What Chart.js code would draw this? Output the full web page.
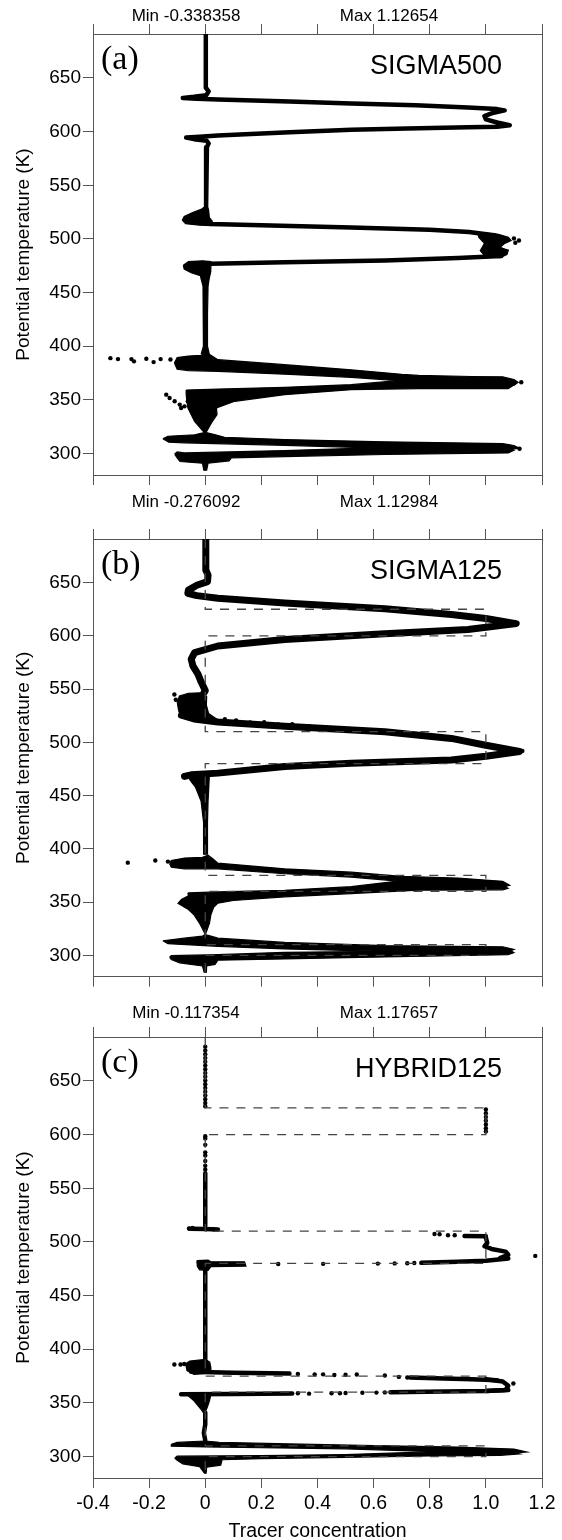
<!DOCTYPE html>
<html>
<head>
<meta charset="utf-8">
<script src="https://cdn.jsdelivr.net/npm/chart.js@4.4.1/dist/chart.umd.min.js"></script>
<style>
  html, body { margin: 0; padding: 0; background: #fff; width: 562px; height: 1540px; overflow: hidden; }
  canvas { position: absolute; left: 0; }
</style>
</head>
<body>
<canvas id="pa" width="562" height="490" style="top:0px;width:562px;height:490px"></canvas>
<canvas id="pb" width="562" height="500" style="top:490px;width:562px;height:500px"></canvas>
<canvas id="pc" width="562" height="570" style="top:990px;width:562px;height:570px"></canvas>
<script>
// axis ticks
const xTickValues = [-0.4, -0.2, 0, 0.2, 0.4, 0.6, 0.8, 1.0, 1.2];
const xTickLabels = ["-0.4", "-0.2", "0", "0.2", "0.4", "0.6", "0.8", "1.0", "1.2"];
const yTickValues = [300, 350, 400, 450, 500, 550, 600, 650];

// panel texts
const panelTags = ["(a)", "(b)", "(c)"];
const panelNames = ["SIGMA500", "SIGMA125", "HYBRID125"];
const minLabels = ["Min -0.338358", "Min -0.276092", "Min -0.117354"];
const maxLabels = ["Max 1.12654", "Max 1.12984", "Max 1.17657"];

// initial tracer profile (dashed), [concentration, theta]
const initialProfile = [[0,691],[0,625],[1,625],[1,600],[0,600],[0,510],[1,510],[1,480],[0,480],
  [0,375],[1,375],[1,360],[0,360],[0,310],[1,310],[1,300],[0,300],[0,280]];

// ---- (a) SIGMA500 : thin profile traces, dense envelopes, stray points
const aProfile = [[0.002,691],[0.002,641],[0.012,637.5],[0.004,634],[-0.04,632.5],[-0.08,631.4],[-0.03,630.6],
  [0.045,630],[0.3,628],[0.52,626.3],[0.75,624.5],[0.936,622.6],[1.04,621],[1.067,619.8],[1.02,617],
  [0.995,614.5],[1.0,611.5],[1.04,608.5],[1.085,606],[1.04,604.6],[0.936,604],[0.72,603],[0.52,601.8],
  [0.3,599.5],[0.045,596.4],[-0.02,595.2],[-0.068,594.5],[-0.04,593],[0.005,591.5],[0.012,589],
  [0.006,585.5],[0.003,582],[0.003,530],[0.008,519],[0.02,514],[0.2,512.8],[0.52,510.7],[0.8,508.5],
  [0.94,506.4],[1.03,503.5],[1.06,500.5],[1.04,496.5],[1.03,493],[1.06,489.5],[1.055,484],[0.9,482.3],
  [0.64,480],[0.283,478.3],[0.02,476.8],[-0.04,475.5],[-0.07,474.5]];
const aBlobs = [
  [[-0.082,517.5],[-0.075,521],[-0.045,524.5],[-0.015,527.5],[0.004,531],[0.012,527],[0.014,520],[0.025,516.5],[0.02,512.5],[-0.02,512.8],[-0.07,514.2]],
  [[0.97,506.2],[1.045,504.2],[1.08,501.5],[1.09,498.5],[1.065,495.5],[1.05,492],[1.08,489.5],[1.075,485.5],[1.05,482.5],[1.0,483.2],[0.98,489],[0.995,496],[0.975,501.5]],
  [[-0.078,475.5],[-0.06,478.8],[-0.01,479.6],[0.02,479],[0.02,472],[0.015,466.5],[-0.015,465.5],[-0.05,468.5],[-0.075,472]],
  [[-0.02,470],[-0.015,463],[-0.008,456],[-0.006,430],[-0.007,400],[-0.014,393],[0.014,393],[0.008,400],[0.008,430],[0.01,456],[0.014,463],[0.02,470]],
  [[-0.11,384.3],[-0.1,389.5],[-0.06,390.8],[-0.015,391.5],[0.004,394],[0.02,391.5],[0.045,387.5],[0.283,382.8],[0.52,378],[0.7,373.8],[0.76,372.8],[0.95,371.8],[1.06,371.5],[1.1,369],[1.115,366.5],[1.1,363.5],[0.76,364.5],[0.687,367.9],[0.52,371],[0.283,374],[0.045,376.6],[-0.06,377.3],[-0.1,378.5]],
  [[-0.068,359.2],[0.045,360.1],[0.283,361.7],[0.52,364.2],[0.687,367.9],[0.76,367],[1.08,366],[1.1,364],[1.08,360.5],[0.76,360.5],[0.52,359.5],[0.283,354.9],[0.105,348.7],[0.04,342.5],[0.042,336.3],[0.022,328.5],[0.006,321],[0.0,319],[-0.008,321],[-0.038,330],[-0.062,342.5],[-0.068,354.9]],
  [[-0.151,313.7],[-0.133,316.1],[-0.038,317.5],[0.0,319.8],[0.033,317.7],[0.069,315.2],[0.283,313],[0.64,310.9],[1.06,309.3],[1.1,307.5],[1.12,305],[1.08,303.5],[0.592,305.3],[0.283,307.7],[-0.074,310],[-0.13,310.5]],
  [[-0.109,299.5],[-0.1,301.5],[-0.074,300.6],[0.283,302.8],[0.592,305.3],[1.08,305.5],[1.1,303],[1.08,300.6],[0.64,299.1],[0.283,297.2],[0.093,296],[0.085,293.2],[0.01,291],[0.005,284.5],[-0.005,284.5],[-0.01,291],[-0.09,292.6],[-0.1,296]]
];
const aDots = [[-0.338,388.9],[-0.311,388],[-0.263,388],[-0.254,385.9],[-0.21,388.3],[-0.184,385.2],[-0.159,388],
  [-0.124,387.7],[-0.139,354.9],[-0.127,351.8],[-0.109,348.7],[-0.091,345.6],[-0.074,344],[-0.062,348.7],
  [-0.086,342.5],[1.126,366.5],[1.12,304.5],[1.1,500.5],[1.118,498.5],[1.105,496.5]];

// ---- (b) SIGMA125
const bProfile = [[0.002,691],[0.002,662],[0.01,657],[0.008,651],[-0.03,647.5],[-0.06,643],[-0.062,640],
  [-0.03,637.8],[0.045,635.4],[0.283,630.8],[0.64,625.5],[0.877,620],[1.0,616.3],[1.108,611.5],[1.03,609],
  [0.936,606],[0.64,602],[0.283,596.7],[0.045,590.5],[-0.038,584.3],[-0.05,578.1],[-0.044,571.9],
  [-0.026,564.1],[-0.014,556.4],[0.0,548.6],[-0.014,542.4]];
const bProfile2 = [[-0.085,525.5],[-0.04,522],[0.045,519.2],[0.283,515.2],[0.64,510],[0.877,503.7],
  [0.995,497.5],[1.12,491.5],[1.0,487],[0.877,483.5],[0.52,480.4],[0.283,477.3],[0.045,471.1],
  [-0.05,469.5],[-0.074,468]];
const bBlobs = [
  [[-0.1,538],[-0.092,543.5],[-0.06,546],[-0.02,546.5],[0.005,543],[0.004,535],[0.012,527],[0.04,522],[0.0,519.5],[-0.05,521.5],[-0.088,524],[-0.095,530]],
  [[-0.06,470],[0.015,471],[0.013,460],[0.01,445],[0.008,425],[0.008,395],[-0.006,395],[-0.006,425],[-0.015,445],[-0.035,458],[-0.055,465]],
  [[-0.127,385.9],[-0.121,389],[-0.074,391.4],[-0.01,392],[0.01,394],[0.03,390],[0.045,386.5],[0.283,381.2],[0.52,378.1],[0.7,374.1],[0.9,372.5],[1.06,369.5],[1.085,365.7],[1.06,364],[0.76,366],[0.687,369.7],[0.52,373.5],[0.283,376.6],[0.045,381.2],[-0.074,381.2],[-0.121,382.8]],
  [[-0.062,358.6],[0.045,359.5],[0.283,361],[0.52,364.5],[0.687,369.7],[0.76,368],[1.06,366],[1.079,363],[1.06,361.5],[0.76,361.2],[0.52,358],[0.283,354.9],[0.1,351.5],[0.045,349],[0.03,345],[0.02,338],[0.015,330],[0.004,322],[0.0,319.2],[-0.004,322],[-0.02,330],[-0.04,338],[-0.06,343],[-0.097,348.7],[-0.085,352.5],[-0.06,356]],
  [[-0.151,313.6],[-0.074,316.1],[-0.01,318],[0.0,319.5],[0.02,318],[0.045,316.1],[0.283,312.1],[0.64,309],[1.06,308],[1.1,305.5],[1.085,304],[0.64,303.7],[0.283,306],[0.045,308.4],[-0.133,310.9]],
  [[-0.127,298.2],[-0.121,299.7],[0.045,300.6],[0.283,302.8],[0.64,303.7],[1.085,305],[1.1,302.5],[1.079,300.6],[0.64,298.5],[0.283,296.6],[0.045,295.4],[0.035,291.5],[0.005,290],[0.004,284.2],[-0.004,284.2],[-0.01,290],[-0.091,292.9],[-0.121,296]]
];
const bDots = [[-0.276,387],[-0.178,389],[-0.133,388],[0.07,521.8],[0.11,520.6],[0.16,518.6],[0.21,518.9],
  [0.26,516.8],[0.31,517.1],[0.37,515.2],[-0.11,545],[-0.105,540],[1.13,492]];

// ---- (c) HYBRID125
const cLines = [
  [[0,564],[0,515]],
  [[-0.055,512.2],[0.0,512],[0.045,511.6]],
  [[0.924,505.6],[1.0,505.2]],
  [[1.0,504],[1.005,499],[0.995,496],[1.02,493.5],[1.07,491],[1.08,488],[1.05,485]],
  [[0.77,480.5],[0.9,481.5],[1.0,482.5],[1.08,484.5]],
  [[0,477],[0,388]],
  [[-0.05,379],[0.1,378.2],[0.3,377.3]],
  [[0.73,373.6],[0.85,372.8],[0.95,372],[1.04,371.2]],
  [[1.0,372],[1.06,370],[1.08,366],[1.07,362],[1.0,361]],
  [[-0.086,358],[0.1,358.3],[0.31,358.8]],
  [[0.66,360],[0.85,360.5],[1.0,361],[1.08,362]],
  [[0,341],[0.0,330],[-0.005,322],[0,315]]
];
const cBlobs = [
  [[-0.03,482.5],[0.01,483],[0.02,481.5],[0.14,481.5],[0.145,477.5],[0.02,477],[0.01,473.5],[-0.02,474],[-0.028,477]],
  [[-0.07,386.5],[-0.055,389],[0.0,390.5],[0.016,388],[0.02,383],[0.02,378],[-0.04,376.5],[-0.065,380]],
  [[-0.065,357.5],[0.02,357.5],[0.015,352],[0.006,345],[-0.004,340],[-0.018,345],[-0.04,352]],
  [[-0.121,311.5],[-0.1,313.2],[0.0,314.5],[0.05,313.3],[0.3,311.8],[0.6,310.3],[0.9,308.8],[1.1,307],[1.146,304.2],[1.1,303.2],[0.82,304.5],[0.5,307.2],[0.2,308.2],[0.0,309],[-0.12,309.6]],
  [[-0.109,298.5],[-0.1,300.3],[0.2,300.8],[0.5,301.8],[0.82,304.5],[1.1,303.8],[1.12,302.5],[1.05,301],[0.8,300.5],[0.5,299.3],[0.2,298],[0.06,297],[0.055,292],[0.005,290],[0.003,284.5],[-0.003,284.5],[-0.02,290.5],[-0.08,293.2],[-0.1,296.5]]
];
const cDots = [[0,682],[0,678.5],[0,675],[0,671.5],[0,668],[0,664.5],[0,661],[0,657.5],[0,654],[0,650.5],
  [0,647],[0,643.5],[0,640],[0,636.5],[0,633],[0,629.5],[0,626.5],
  [1,623.5],[1,620],[1,616.5],[1,613],[1,609.5],[1,606],[1,603],
  [0,598.5],[0,596.5],[0,590.5],[0,583.5],[0,580.5],[0,575.5],[0,571],[0,567.5],
  [-0.058,512.5],[-0.045,513],[0.03,511.8],[0.817,507.4],[0.835,507.2],[0.865,506.3],[0.889,506.2],
  [1.176,487],[0.26,479.5],[0.42,479.6],[0.615,479.8],[0.675,480],[0.72,480.2],[0.745,480.4],
  [-0.11,385.8],[-0.088,385.8],[-0.075,386.2],
  [0.33,377],[0.39,376.6],[0.42,376.6],[0.46,376],[0.5,376.2],[0.54,376.4],[0.64,375.5],[0.69,374.2],
  [0.72,373.6],[1.098,368.1],
  [0.33,359],[0.37,358.6],[0.45,359],[0.48,359],[0.5,359.2],[0.56,359.4],[0.61,359.6],[0.64,359.8]];

Chart.defaults.font.family = '"Liberation Sans", Arial, Helvetica, sans-serif';
Chart.defaults.color = "#000";

const axisGrey = "#555";
const xy = (pts) => pts.map((p) => ({ x: p[0], y: p[1] }));
const setTicks = (vals) => (scale) => { scale.ticks = vals.map((v) => ({ value: v })); };

// labels drawn on top of each panel
const panelText = {
  id: "panelText",
  afterDraw(chart, args, o) {
    const { ctx, chartArea } = chart;
    ctx.save();
    ctx.fillStyle = "#000";
    ctx.textBaseline = "alphabetic";
    ctx.textAlign = "left";
    ctx.font = '34px "Liberation Serif", "Times New Roman", serif';
    ctx.fillText(o.tag, chartArea.left + 8, chartArea.top + 35);
    ctx.textAlign = "right";
    ctx.font = '27px "Liberation Sans", Arial, sans-serif';
    ctx.fillText(o.name, 502, chartArea.top + 39.5);
    ctx.textAlign = "center";
    ctx.textBaseline = "middle";
    ctx.font = '17px "Liberation Sans", Arial, sans-serif';
    ctx.fillText(o.min, 186, o.labelY);
    ctx.fillText(o.max, 389, o.labelY);
    ctx.restore();
  },
};

function makePanel(id, p) {
  const datasets = [];
  if (p.dashed) {
    datasets.push({ type: "line", data: xy(initialProfile), borderColor: "#444", borderWidth: 1.3,
      borderDash: [9, 8], pointRadius: 0, fill: false, order: 0 });
  }
  datasets.push({ type: "scatter", data: xy(p.dots), pointRadius: 2.2, backgroundColor: "#000",
    borderWidth: 0, order: 1 });
  p.lines.forEach((l) => datasets.push({ type: "line", data: xy(l), borderColor: "#000",
    borderWidth: p.lineWidth, borderJoinStyle: "round", borderCapStyle: "round", tension: 0,
    pointRadius: 0, fill: false, order: 2 }));
  p.blobs.forEach((b) => datasets.push({ type: "line", data: xy(b.concat([b[0]])), borderColor: "#000",
    borderWidth: 1.2, backgroundColor: "#000", fill: "shape", tension: 0, pointRadius: 0, order: 3 }));

  const grid = { drawOnChartArea: false, drawTicks: true, tickLength: 10, color: axisGrey };
  const border = { display: true, color: axisGrey, width: 1 };

  return new Chart(document.getElementById(id), {
    type: "scatter",
    data: { datasets },
    plugins: [panelText],
    options: {
      responsive: false,
      animation: false,
      devicePixelRatio: 1,
      events: [],
      layout: { autoPadding: false, padding: { left: 0, right: 20, top: 0, bottom: 0 } },
      plugins: {
        legend: { display: false },
        tooltip: { enabled: false },
        panelText: { tag: p.tag, name: p.name, min: p.min, max: p.max, labelY: p.labelY },
      },
      scales: {
        x: {
          type: "linear", position: "bottom", min: -0.4, max: 1.2,
          afterBuildTicks: setTicks(xTickValues),
          ticks: { display: p.showX, autoSkip: false, maxRotation: 0, padding: 4, font: { size: 19.5 },
            callback: (v, i) => xTickLabels[i] },
          grid, border,
          title: { display: p.showX, text: "Tracer concentration", font: { size: 19.5 },
            padding: { top: 0, bottom: 16.8 } },
          afterFit: (s) => { s.height = p.bottomH; },
        },
        x2: {
          type: "linear", position: "top", min: -0.4, max: 1.2,
          afterBuildTicks: setTicks(xTickValues),
          ticks: { display: false },
          grid, border,
          afterFit: (s) => { s.height = p.topH; },
        },
        y: {
          type: "linear", position: "left", min: 280, max: 691,
          afterBuildTicks: setTicks(yTickValues),
          ticks: { padding: 2, font: { size: 19 } },
          grid, border,
          title: { display: true, text: "Potential temperature (K)", font: { size: 19 },
            padding: { top: 12.6, bottom: 0 } },
          afterFit: (s) => { s.width = 93; },
        },
        y2: {
          type: "linear", position: "right", min: 280, max: 691,
          ticks: { display: false },
          grid: { display: false, drawTicks: false },
          border,
          afterFit: (s) => { s.width = 0; },
        },
      },
    },
  });
}

makePanel("pa", { tag: panelTags[0], name: panelNames[0], min: minLabels[0], max: maxLabels[0],
  labelY: 16, topH: 34, bottomH: 15, showX: false, dashed: false, lineWidth: 4.5,
  lines: [aProfile], blobs: aBlobs, dots: aDots });
makePanel("pb", { tag: panelTags[1], name: panelNames[1], min: minLabels[1], max: maxLabels[1],
  labelY: 12, topH: 49, bottomH: 10, showX: false, dashed: true, lineWidth: 7,
  lines: [bProfile, bProfile2], blobs: bBlobs, dots: bDots });
makePanel("pc", { tag: panelTags[2], name: panelNames[2], min: minLabels[2], max: maxLabels[2],
  labelY: 23, topH: 47, bottomH: 82, showX: true, dashed: true, lineWidth: 4.5,
  lines: cLines, blobs: cBlobs, dots: cDots });
</script>
</body>
</html>
